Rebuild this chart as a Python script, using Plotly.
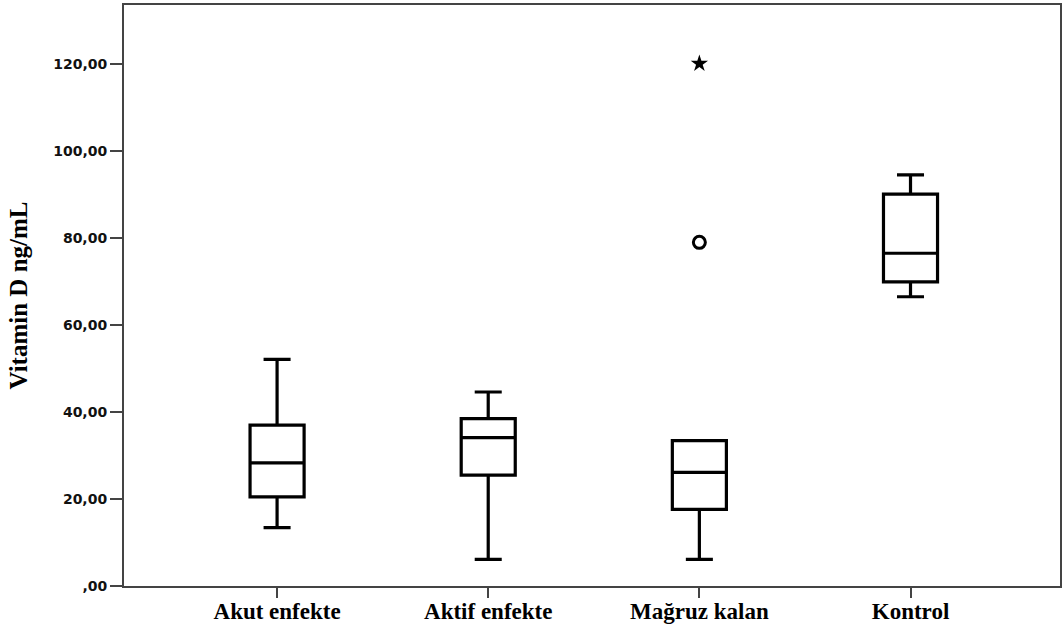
import plotly.graph_objects as go

categories = ["Akut enfekte", "Aktif enfekte", "Mağruz kalan", "Kontrol"]
lower_whisker = [13.4, 6.1, 6.1, 66.5]
q1_values = [20.5, 25.5, 17.6, 69.9]
median_values = [28.3, 34.1, 26.1, 76.5]
q3_values = [37.0, 38.5, 33.4, 90.1]
upper_whisker = [52.1, 44.6, 33.4, 94.5]

outlier_category = ["Mağruz kalan"]
outlier_values = [79.0]
extreme_category = ["Mağruz kalan"]
extreme_values = [120.1]

y_tickvals = [0, 20, 40, 60, 80, 100, 120]
y_ticktext = [",00", "20,00", "40,00", "60,00", "80,00", "100,00", "120,00"]

fig = go.Figure()
fig.add_trace(go.Box(
    x=categories,
    q1=q1_values, median=median_values, q3=q3_values,
    lowerfence=lower_whisker, upperfence=upper_whisker,
    width=0.256, whiskerwidth=0.5,
    line=dict(color="black", width=3.2),
    fillcolor="white",
    boxpoints=False,
    showlegend=False,
    hoverinfo="skip",
))
fig.add_trace(go.Scatter(
    x=outlier_category, y=outlier_values, mode="markers",
    marker=dict(symbol="circle-open", size=12, color="black", line=dict(width=3, color="black")),
    showlegend=False,
))
fig.add_trace(go.Scatter(
    x=extreme_category, y=extreme_values, mode="markers",
    marker=dict(symbol="star", size=13, color="black", line=dict(width=0)),
    showlegend=False,
))

fig.update_layout(
    width=1062, height=626,
    margin=dict(l=124, r=2, t=5, b=40, autoexpand=False),
    paper_bgcolor="white", plot_bgcolor="white",
    xaxis=dict(
        type="category", categoryorder="array", categoryarray=categories,
        range=[-0.725, 3.708],
        showgrid=False, zeroline=False,
        showline=True, linecolor="#444", linewidth=2, mirror=True,
        ticks="outside", ticklen=10, tickwidth=2, tickcolor="#444",
        ticklabelstandoff=-7,
        tickfont=dict(family="Liberation Serif", size=23, color="black", weight="bold"),
    ),
    yaxis=dict(
        range=[0, 133.57],
        tickvals=y_tickvals, ticktext=y_ticktext,
        showgrid=False, zeroline=False,
        showline=True, linecolor="#444", linewidth=2, mirror=True,
        ticks="outside", ticklen=12, tickwidth=2, tickcolor="#444",
        tickfont=dict(family="DejaVu Sans", size=14, color="#111", weight="bold"),
        title=dict(text="Vitamin D ng/mL", standoff=18,
                   font=dict(family="Liberation Serif", size=25, color="black", weight="bold")),
    ),
)

fig.write_html("out.html", config={"displayModeBar": False},
               post_script="document.body.style.margin='0';")
